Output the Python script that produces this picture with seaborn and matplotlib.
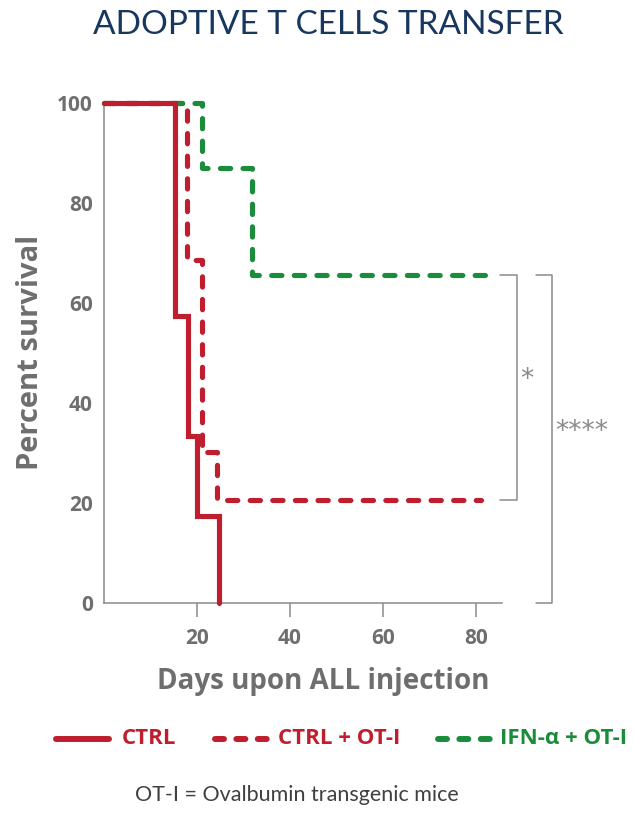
import matplotlib
matplotlib.use("Agg")
import matplotlib.pyplot as plt
import seaborn as sns
import pandas as pd
from matplotlib.lines import Line2D

sns.set_theme(style="ticks")
plt.rcParams['font.family'] = ['Open Sans', 'DejaVu Sans']

# ---------------- data ----------------
series_names = ["CTRL", "CTRL + OT-I", "IFN-α + OT-I"]
ctrl_days = [0, 15.3, 18.0, 20.0, 24.7]
ctrl_surv = [100, 57.5, 33.5, 17.5, 0]
ctrl_ot_days = [0, 17.8, 21.0, 24.3, 81.0]
ctrl_ot_surv = [100, 68.6, 30.2, 20.6, 20.6]
ifn_ot_days = [0, 21.0, 31.8, 83.6]
ifn_ot_surv = [100, 87.0, 65.6, 65.6]

x_ticks = [20, 40, 60, 80]
y_ticks = [0, 20, 40, 60, 80, 100]

sig_labels = ["*", "****"]

title = "ADOPTIVE T CELLS TRANSFER"
xlabel = "Days upon ALL injection"
ylabel = "Percent survival"
footer = "OT-I = Ovalbumin transgenic mice"

# ---------------- styling ----------------
RED = "#BE1E2D"
GREEN = "#1B8C3C"
AXGRAY = "#8a8a8a"
TXTGRAY = "#6e6e6e"
palette = {series_names[0]: RED, series_names[1]: RED, series_names[2]: GREEN}
dashes = {series_names[0]: "", series_names[1]: (2.0, 2.4), series_names[2]: (2.0, 2.4)}

df = pd.concat([
    pd.DataFrame({"day": ctrl_days, "surv": ctrl_surv, "group": series_names[0]}),
    pd.DataFrame({"day": ctrl_ot_days, "surv": ctrl_ot_surv, "group": series_names[1]}),
    pd.DataFrame({"day": ifn_ot_days, "surv": ifn_ot_surv, "group": series_names[2]}),
], ignore_index=True)

W, H = 633, 831
fig = plt.figure(figsize=(W / 100, H / 100), dpi=100)
ax = fig.add_axes([104 / W, 228 / H, 511.5 / W, 500 / H])
ax.set_facecolor("none")

sns.lineplot(data=df, x="day", y="surv", hue="group", style="group",
             hue_order=series_names, style_order=series_names,
             palette=palette, dashes=dashes, drawstyle="steps-post",
             estimator=None, sort=False, legend=False, linewidth=3.7,
             solid_capstyle="round", dash_capstyle="round",
             solid_joinstyle="miter", clip_on=False, ax=ax, zorder=3)
ax.lines[0].set_zorder(5)

ax.set_xlim(0, 110)
ax.set_ylim(0, 100)
ax.set_xticks(x_ticks)
ax.set_yticks(y_ticks)
for s in ["top", "right"]:
    ax.spines[s].set_visible(False)
for s in ["left", "bottom"]:
    ax.spines[s].set_color(AXGRAY)
    ax.spines[s].set_linewidth(1.1)
ax.spines["left"].set_bounds(0, 100)
ax.spines["bottom"].set_bounds(0, 85.5)

ax.tick_params(axis="x", bottom=True, length=10, width=1.1, color=AXGRAY,
               pad=8, labelsize=15, labelcolor=TXTGRAY)
ax.tick_params(axis="y", left=False, length=0, pad=8, labelsize=15,
               labelcolor=TXTGRAY)
for lab in ax.get_xticklabels() + ax.get_yticklabels():
    lab.set_fontweight("bold")

ax.set_xlabel(xlabel, fontsize=20, fontweight="bold", color=TXTGRAY)
ax.set_ylabel(ylabel, fontsize=21, fontweight="bold", color=TXTGRAY)
ax.xaxis.set_label_coords(0.428, -0.158)
ax.xaxis.label.set_va("center")
ax.yaxis.set_label_coords(-0.143, 0.502)
ax.yaxis.label.set_va("center")

# significance brackets
br1_x = [85.2, 88.8, 88.8, 85.2]
br1_y = [65.6, 65.6, 20.6, 20.6]
br2_x = [92.9, 96.3, 96.3, 92.9]
br2_y = [65.6, 65.6, 0, 0]
ax.plot(br1_x, br1_y, color=AXGRAY, lw=1.1, clip_on=False)
ax.plot(br2_x, br2_y, color=AXGRAY, lw=1.1, clip_on=False)
ax.text(89.5, 44.6, sig_labels[0], color=AXGRAY, fontsize=19,
        family=["DejaVu Sans"], va="center", ha="left")
ax.text(97.0, 34.2, sig_labels[1], color=AXGRAY, fontsize=19,
        family=["DejaVu Sans"], va="center", ha="left")

# title and footer
fig.text(328 / W, 1 - 25 / H, title, ha="center", va="center",
         fontsize=24, color="#17375E", family=["Lato", "DejaVu Sans"])
fig.text(135 / W, 1 - 795 / H, footer, ha="left", va="center",
         fontsize=15.5, color="#404040", family=["Lato", "DejaVu Sans"])

# legend (manual)
leg_y = 1 - 739 / H
legend_specs = [
    (53, 112, 122, series_names[0], RED, None),
    (212, 270, 278, series_names[1], RED, (1.5, 2.08)),
    (435, 493, 500, series_names[2], GREEN, (1.5, 2.08)),
]
for x0, x1, xt, name, col, dsh in legend_specs:
    ln = Line2D([(x0 + 3) / W, (x1 - 3) / W], [leg_y, leg_y],
                transform=fig.transFigure, color=col, lw=4.3,
                solid_capstyle="round", dash_capstyle="round")
    if dsh is not None:
        ln.set_dashes(dsh)
    fig.add_artist(ln)
    fig.text(xt / W, leg_y, name, ha="left", va="center", fontsize=16,
             fontweight="bold", color=col)

fig.savefig("out.png", dpi=100)
